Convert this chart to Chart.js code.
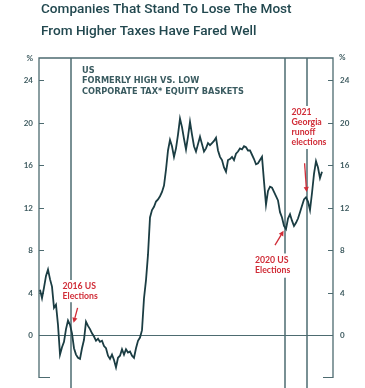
<!DOCTYPE html>
<html>
<head>
<meta charset="utf-8">
<script src="https://cdn.jsdelivr.net/npm/chart.js@4.4.0/dist/chart.umd.min.js"></script>
<style>
  html, body { margin: 0; padding: 0; background: #fff; }
  #wrap { position: relative; width: 365px; height: 388px; }
</style>
</head>
<body>
<div id="wrap"><canvas id="chart" width="365" height="388"></canvas></div>
<script>
// relative performance, formerly high vs low corporate tax baskets (%)
const basketSpread = [
  4.3, 3.5, 4.5, 5.6, 6.2, 5.3, 4.6, 2.6, 2.9, 1.0,
  -1.8, -1.1, -0.6, 0.6, 1.4, 1.0, 0.2, -1.2, -1.8, -2.1,
  -2.2, -1.2, -0.4, 1.3, 0.9, 0.6, 0.2, -0.1, -0.5, -0.3,
  -0.6, -0.5, -1.0, -1.2, -1.9, -2.2, -1.8, -2.3, -3.0, -2.1,
  -1.9, -1.3, -1.8, -1.3, -1.6, -1.5, -1.9, -2.1, -1.2, -0.5,
  -0.2, 0.5, 3.5, 5.2, 7.6, 11.1, 11.8, 12.1, 12.6, 12.8,
  13.1, 13.5, 14.1, 15.6, 17.4, 18.4, 17.8, 16.8, 17.6, 18.9,
  20.4, 19.6, 18.5, 17.5, 18.7, 20.1, 18.9, 17.8, 17.3, 18.0,
  18.7, 18.0, 17.3, 17.6, 18.1, 17.9, 18.1, 18.3, 18.6, 17.4,
  16.8, 16.5, 15.8, 15.4, 16.5, 16.6, 16.8, 16.5, 17.1, 17.3,
  17.6, 17.5, 17.8, 17.7, 17.4, 17.4, 17.0, 16.6, 16.1, 16.2,
  16.5, 16.8, 14.5, 12.3, 13.6, 14.0, 13.9, 13.5, 13.1, 12.7,
  11.6, 11.1, 10.3, 10.0, 11.0, 11.4, 10.8, 10.3, 10.6, 11.0,
  11.6, 12.2, 12.8, 13.0, 12.6, 11.8, 13.4, 15.2, 16.4, 15.8,
  14.8, 15.4
];
const yTicks = [0, 4, 8, 12, 16, 20, 24];
const titleLines = ['Companies That Stand To Lose The Most', 'From Higher Taxes Have Fared Well'];
const noteLines = ['US', 'FORMERLY HIGH VS. LOW', 'CORPORATE TAX* EQUITY BASKETS'];
// positions of the events along the series (index units)
const eventAt = [15.5, 122.5, 133.5];
const eventText = [['2016 US', 'Elections'], ['2020 US', 'Elections'], ['2021', 'Georgia', 'runoff', 'elections']];

const INK = '#1b3d43';
const AXIS = '#4d6b70';
const RED = '#d02c37';

const overlay = {
  id: 'overlay',
  beforeDatasetsDraw(chart) {
    const { ctx, chartArea: a, scales: { x, y } } = chart;
    ctx.save();
    ctx.strokeStyle = AXIS;

    // zero line
    ctx.lineWidth = 1;
    ctx.beginPath();
    ctx.moveTo(a.left, Math.round(y.getPixelForValue(0)) + 0.5);
    ctx.lineTo(a.right, Math.round(y.getPixelForValue(0)) + 0.5);
    ctx.stroke();

    // event lines
    ctx.lineWidth = 1.5;
    eventAt.forEach(v => {
      const px = x.getPixelForValue(v);
      ctx.beginPath();
      ctx.moveTo(px, a.top);
      ctx.lineTo(px, chart.height);
      ctx.stroke();
    });

    // frame
    ctx.lineWidth = 1.3;
    ctx.beginPath();
    ctx.moveTo(a.left, a.bottom);
    ctx.lineTo(a.left, a.top);
    ctx.lineTo(a.right, a.top);
    ctx.lineTo(a.right, a.bottom);
    ctx.stroke();

    // ticks and labels
    ctx.lineWidth = 1;
    ctx.fillStyle = '#3d5a5f';
    ctx.font = 'bold 8px Lato';
    ctx.textBaseline = 'middle';
    yTicks.forEach(t => {
      const py = Math.round(y.getPixelForValue(t)) + 0.5;
      ctx.beginPath();
      ctx.moveTo(a.left, py); ctx.lineTo(a.left + 5, py);
      ctx.moveTo(a.right - 5, py); ctx.lineTo(a.right, py);
      ctx.stroke();
      ctx.textAlign = 'right';
      ctx.fillText(String(t), a.left - 6, py);
      ctx.textAlign = 'left';
      ctx.fillText(String(t), a.right + 7, py);
    });
    const pb = Math.round(y.getPixelForValue(y.min)) - 0.5;
    ctx.beginPath();
    ctx.moveTo(a.left, pb); ctx.lineTo(a.left + 11, pb);
    ctx.moveTo(a.right - 10, pb); ctx.lineTo(a.right, pb);
    ctx.stroke();
    ctx.textAlign = 'right';
    ctx.fillText('%', a.left - 6, a.top);
    ctx.textAlign = 'left';
    ctx.fillText('%', a.right + 6, a.top - 1);
    ctx.restore();
  },
  afterDatasetsDraw(chart) {
    const { ctx, chartArea: a, scales: { x, y } } = chart;
    ctx.save();

    // title
    ctx.fillStyle = '#22484f';
    ctx.font = '500 13.6px Roboto';
    ctx.textAlign = 'left';
    ctx.textBaseline = 'alphabetic';
    ctx.fillText(titleLines[0], 41, 13);
    ctx.fillText(titleLines[1], 41, 34.5);

    // basket note, sized so the long line spans about 162px
    ctx.fillStyle = '#3a5b60';
    ctx.font = 'bold 10px "DejaVu Sans"';
    const fs = 10 * 162 / ctx.measureText(noteLines[2]).width;
    ctx.font = 'bold ' + fs.toFixed(2) + 'px "DejaVu Sans"';
    noteLines.forEach((s, i) => ctx.fillText(s, 82, 72.5 + i * 10.7));

    // event labels with white boxes
    ctx.font = 'bold 8.7px Lato';
    const boxes = [
      { x: 62.5, y: 289, step: 9.6 },
      { x: 255, y: 262.5, step: 10.6 },
      { x: 291.5, y: 115, step: 10 }
    ];
    eventText.forEach((lines, k) => {
      const b = boxes[k];
      const w = Math.max(...lines.map(s => ctx.measureText(s).width));
      ctx.fillStyle = '#fff';
      ctx.fillRect(b.x - 1.5, b.y - 9, w + 3, lines.length * b.step + 3);
      ctx.fillStyle = RED;
      lines.forEach((s, i) => ctx.fillText(s, b.x, b.y + i * b.step));
    });

    // arrows, tail and head given in data units
    const arrows = [
      [[18.8, 2.6], [16.8, 1.2]],
      [[117.5, 8.5], [121.8, 9.85]],
      [[132.3, 16.2], [133.3, 13.5]]
    ];
    ctx.strokeStyle = RED;
    ctx.fillStyle = RED;
    ctx.lineWidth = 1.3;
    arrows.forEach(([t, h]) => {
      const x0 = x.getPixelForValue(t[0]), y0 = y.getPixelForValue(t[1]);
      const x1 = x.getPixelForValue(h[0]), y1 = y.getPixelForValue(h[1]);
      const ang = Math.atan2(y1 - y0, x1 - x0);
      const hl = 5, hw = 2.6;
      const bx = x1 - hl * Math.cos(ang), by = y1 - hl * Math.sin(ang);
      ctx.beginPath();
      ctx.moveTo(x0, y0); ctx.lineTo(bx, by);
      ctx.stroke();
      ctx.beginPath();
      ctx.moveTo(x1, y1);
      ctx.lineTo(bx + hw * Math.sin(ang), by - hw * Math.cos(ang));
      ctx.lineTo(bx - hw * Math.sin(ang), by + hw * Math.cos(ang));
      ctx.closePath();
      ctx.fill();
    });
    ctx.restore();
  }
};

new Chart(document.getElementById('chart'), {
  type: 'line',
  data: {
    datasets: [{
      data: basketSpread.map((v, i) => ({ x: i, y: v })),
      borderColor: INK,
      borderWidth: 1.8,
      pointRadius: 0,
      tension: 0,
      fill: false
    }]
  },
  options: {
    responsive: false,
    animation: false,
    layout: { padding: { left: 39, right: 32, top: 58, bottom: 10 } },
    plugins: { legend: { display: false }, tooltip: { enabled: false } },
    scales: {
      x: { type: 'linear', min: -0.5, max: 146.5, display: false },
      y: { min: -4, max: 26.1, display: false }
    }
  },
  plugins: [overlay]
});
</script>
</body>
</html>
